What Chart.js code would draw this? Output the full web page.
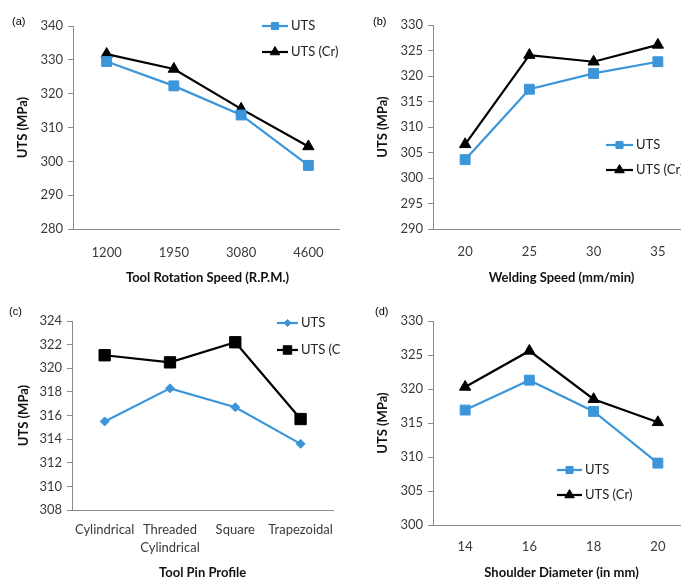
<!DOCTYPE html>
<html>
<head>
<meta charset="utf-8">
<script src="https://cdn.jsdelivr.net/npm/chart.js@4.4.1/dist/chart.umd.min.js"></script>
<style>
  html, body { margin: 0; padding: 0; background: #fff; overflow: hidden; }
  #wrap { position: relative; width: 681px; height: 581px; overflow: hidden; background: #fff; }
  .cell { position: absolute; overflow: hidden; }
  .cell canvas { position: absolute; left: 0; top: 0; }
  .tag { position: absolute; font: 11px "Liberation Sans", Arial, sans-serif; color: #000; line-height: 1; }
</style>
</head>
<body>
<div id="wrap">
  <div class="cell" style="left:0;top:0;width:340px;height:290px">
    <canvas id="panelA" width="350" height="290" style="width:350px;height:290px"></canvas>
  </div>
  <div class="cell" style="left:340px;top:0;width:341px;height:290px">
    <canvas id="panelB" width="358" height="290" style="width:358px;height:290px"></canvas>
  </div>
  <div class="cell" style="left:0;top:290px;width:340px;height:291px">
    <canvas id="panelC" width="345" height="291" style="width:345px;height:291px"></canvas>
  </div>
  <div class="cell" style="left:340px;top:290px;width:341px;height:291px">
    <canvas id="panelD" width="358" height="291" style="width:358px;height:291px"></canvas>
  </div>
  <div class="tag" style="left:12px;top:16px">(a)</div>
  <div class="tag" style="left:373px;top:16px">(b)</div>
  <div class="tag" style="left:9px;top:306px">(c)</div>
  <div class="tag" style="left:375px;top:306px">(d)</div>
</div>
<script>
// Panel (a): tool rotation speed
const speedLabels = ['1200', '1950', '3080', '4600'];
const utsSpeed = [329.5, 322.3, 313.7, 298.8];
const utsCrSpeed = [331.7, 327.3, 315.5, 304.4];
const speedTicks = [280, 340, 10];

// Panel (b): welding speed
const weldLabels = ['20', '25', '30', '35'];
const utsWeld = [303.6, 317.4, 320.5, 322.8];
const utsCrWeld = [306.6, 324.1, 322.8, 326.1];
const weldTicks = [290, 330, 5];

// Panel (c): tool pin profile
const pinLabels = ['Cylindrical', ['Threaded', 'Cylindrical'], 'Square', 'Trapezoidal'];
const utsPin = [315.5, 318.3, 316.7, 313.6];
const utsCrPin = [321.1, 320.5, 322.2, 315.7];
const pinTicks = [308, 324, 2];

// Panel (d): shoulder diameter
const shoulderLabels = ['14', '16', '18', '20'];
const utsShoulder = [316.9, 321.3, 316.7, 309.1];
const utsCrShoulder = [320.3, 325.6, 318.5, 315.1];
const shoulderTicks = [300, 330, 5];

const seriesNames = ['UTS', 'UTS (Cr)'];

const BLUE = '#3b96d9';
const BLACK = '#000000';
const AXIS = '#8c8c8c';
const TICK = '#3a3a3a';
const FONT = 'Lato, "Open Sans", sans-serif';

// Small legend: a line segment with the series marker in its middle, then the name
const lineLegend = {
  id: 'lineLegend',
  afterDraw(chart, args, opts) {
    if (!opts || opts.x === undefined) return;
    const ctx = chart.ctx;
    chart.data.datasets.forEach((ds, i) => {
      const y = opts.y + i * opts.gap;
      const x0 = opts.x, x1 = opts.x + opts.len;
      ctx.save();
      ctx.strokeStyle = ds.borderColor;
      ctx.lineWidth = ds.borderWidth;
      ctx.beginPath();
      ctx.moveTo(x0, y);
      ctx.lineTo(x1, y);
      ctx.stroke();
      ctx.fillStyle = ds.pointBackgroundColor;
      ctx.strokeStyle = ds.pointBorderColor;
      ctx.lineWidth = 1;
      Chart.helpers.drawPoint(ctx, {
        pointStyle: ds.pointStyle,
        radius: opts.radius[i],
        borderWidth: 1,
        rotation: 0
      }, (x0 + x1) / 2, y);
      ctx.fillStyle = '#222';
      ctx.font = '13px ' + FONT;
      ctx.textBaseline = 'middle';
      ctx.textAlign = 'left';
      ctx.fillText(ds.label, x1 + 3, y);
      ctx.restore();
    });
  }
};

function panel(id, o) {
  return new Chart(document.getElementById(id), {
    type: 'line',
    data: {
      labels: o.labels,
      datasets: [
        {
          label: seriesNames[0], data: o.uts,
          borderColor: BLUE, backgroundColor: BLUE,
          pointBackgroundColor: BLUE, pointBorderColor: BLUE,
          pointStyle: o.utsStyle, pointRadius: o.utsR, pointBorderWidth: 1,
          borderWidth: 2.2, tension: 0, fill: false
        },
        {
          label: seriesNames[1], data: o.cr,
          borderColor: BLACK, backgroundColor: BLACK,
          pointBackgroundColor: BLACK, pointBorderColor: BLACK,
          pointStyle: o.crStyle, pointRadius: o.crR, pointBorderWidth: 1,
          borderWidth: 2.2, tension: 0, fill: false
        }
      ]
    },
    options: {
      responsive: false,
      animation: false,
      devicePixelRatio: 1,
      layout: { padding: o.pad },
      plugins: {
        legend: { display: false },
        tooltip: { enabled: false },
        lineLegend: o.legend
      },
      scales: {
        x: {
          offset: true,
          grid: { display: false, drawTicks: false },
          border: { display: true, color: AXIS, width: 1 },
          ticks: {
            color: TICK, autoSkip: false, maxRotation: 0, padding: o.xPad,
            font: { family: FONT, size: 13, lineHeight: o.xLine }
          },
          title: {
            display: true, text: o.xTitle, color: '#111',
            font: { family: FONT, size: 13, weight: 'bold' },
            padding: { top: 0, bottom: o.xTitlePad }
          },
          afterFit(s) { s.height = o.xH; }
        },
        y: {
          min: o.ticks[0], max: o.ticks[1],
          ticks: {
            stepSize: o.ticks[2], color: TICK, padding: 5,
            font: { family: FONT, size: 13 }
          },
          grid: { drawOnChartArea: false, drawTicks: true, tickLength: 5, color: AXIS },
          border: { display: true, color: AXIS, width: 1 },
          title: {
            display: true, text: 'UTS (MPa)', color: '#111',
            font: { family: FONT, size: 13, weight: 'bold' },
            padding: { top: 5, bottom: 0 }
          },
          afterFit(s) { s.width = o.yW; }
        }
      }
    },
    plugins: [lineLegend]
  });
}

panel('panelA', {
  labels: speedLabels, uts: utsSpeed, cr: utsCrSpeed, ticks: speedTicks,
  xTitle: 'Tool Rotation Speed (R.P.M.)',
  utsStyle: 'rect', utsR: 7, crStyle: 'triangle', crR: 6.5,
  pad: { left: 10, right: 5, top: 26, bottom: 4 }, yW: 63, xH: 57, xPad: 16, xLine: 1.2, xTitlePad: 0,
  legend: { x: 262, len: 26, y: 26, gap: 26, radius: [5, 5.5] }
});

panel('panelB', {
  labels: weldLabels, uts: utsWeld, cr: utsCrWeld, ticks: weldTicks,
  xTitle: 'Welding Speed (mm/min)',
  utsStyle: 'rect', utsR: 7, crStyle: 'triangle', crR: 6.5,
  pad: { left: 30, right: 5, top: 25, bottom: 4 }, yW: 63, xH: 57, xPad: 15, xLine: 1.2, xTitlePad: 0,
  legend: { x: 266, len: 27, y: 145, gap: 25, radius: [5, 5.5] }
});

panel('panelC', {
  labels: pinLabels, uts: utsPin, cr: utsCrPin, ticks: pinTicks,
  xTitle: 'Tool Pin Profile',
  utsStyle: 'rectRot', utsR: 4.5, crStyle: 'rect', crR: 8,
  pad: { left: 11, right: 5, top: 31, bottom: 0 }, yW: 61, xH: 71, xPad: 11, xLine: 1.385, xTitlePad: 0,
  legend: { x: 277, len: 21, y: 33, gap: 27, radius: [3.5, 6] }
});

panel('panelD', {
  labels: shoulderLabels, uts: utsShoulder, cr: utsCrShoulder, ticks: shoulderTicks,
  xTitle: 'Shoulder Diameter (in mm)',
  utsStyle: 'rect', utsR: 7, crStyle: 'triangle', crR: 6.5,
  pad: { left: 30, right: 5, top: 31, bottom: 0 }, yW: 63, xH: 56, xPad: 14, xLine: 1.2, xTitlePad: 0,
  legend: { x: 217, len: 25, y: 180, gap: 25, radius: [5, 5.5] }
});
</script>
</body>
</html>
